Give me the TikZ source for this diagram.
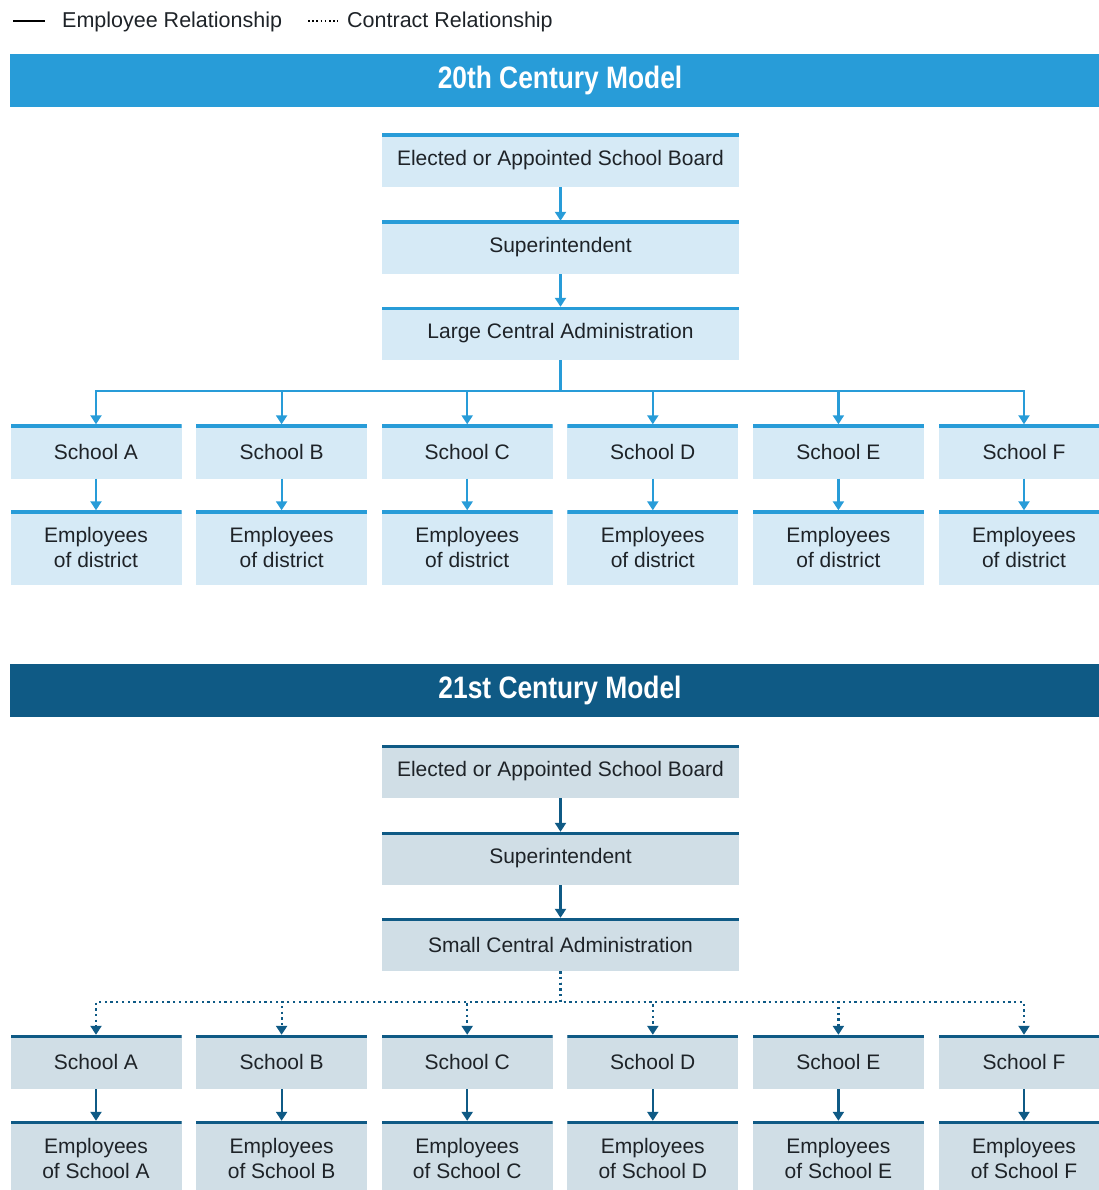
\documentclass[tikz,border=0pt]{standalone}
\usepackage{fontspec}
\setmainfont{Liberation Sans}
\newfontfamily\headfont[FakeStretch=0.85]{Liberation Sans}
\usepackage{tikz}
\usetikzlibrary{arrows.meta, positioning}

\definecolor{oldblue}{HTML}{289CD8}
\definecolor{oldfill}{HTML}{D6EAF6}
\definecolor{newblue}{HTML}{0F5A85}
\definecolor{newfill}{HTML}{D0DEE6}
\definecolor{ink}{HTML}{1E2328}

\tikzset{
  box/.style={inner sep=0pt, text=ink, align=center, font=\fontsize{21}{25}\selectfont},
  topline/.style={path picture={\draw[line width=6pt, #1]
      (path picture bounding box.north west) -- (path picture bounding box.north east);}},
  oldbox/.style={fill=oldfill, topline=oldblue},
  newbox/.style={fill=newfill, topline=newblue},
  wide/.style={box, minimum width=357pt, minimum height=53pt},
  school/.style={box, minimum width=171pt, minimum height=54pt},
  staff/.style={box, minimum width=171pt, minimum height=74pt},
  banner/.style={minimum width=1101pt, minimum height=53pt, inner sep=0pt, text=white,
      font=\headfont\bfseries\fontsize{31}{36}\selectfont},
  legend/.style={anchor=west, inner sep=0pt, text=ink, font=\fontsize{21.5}{25}\selectfont},
  link/.style={line width=2.2pt, -{Triangle[width=11pt, length=9pt]}},
  contract/.style={link, dash pattern=on 2.3pt off 3.4pt},
}

\begin{document}
\begin{tikzpicture}[x=1pt, y=1pt, on grid, node distance=87pt]
\useasboundingbox (0,0) rectangle (1099,-1190);

% legend
\draw[line width=2.5pt] (13,-21) -- (45,-21);
\node[legend] (emplegend) at (62,-22) {Employee Relationship};
\draw[line width=1.6pt, dash pattern=on 1.6pt off 2.6pt] (308,-21) -- (338,-21);
\node[legend] (conlegend) at (347,-22) {Contract Relationship};

% 20th century
\node[banner, fill=oldblue] (head1) at (560,-80.5) {20th Century Model};
\node[wide, oldbox] (board1) at (560.5,-160.5) {Elected or Appointed School Board};
\node[wide, oldbox, below=of board1] (super1) {Superintendent};
\node[wide, oldbox, below=86pt of super1] (admin1) {Large Central Administration};
\draw[link, oldblue] (board1) -- (super1);
\draw[link, oldblue] (super1) -- (admin1);

\foreach \s/\x in {A/96,B/281.6,C/467.2,D/652.8,E/838.4,F/1024}{
  \node[school, oldbox] (schold\s) at (\x,-451.5) {School \s};
  \node[staff, oldbox, below=96pt of schold\s] (empold\s) {Employees\\of district};
  \draw[link, oldblue] (admin1.south) -- ++(0,-31) -| (schold\s.north);
  \draw[link, oldblue] (schold\s) -- (empold\s);
}

% 21st century
\node[banner, fill=newblue] (head2) at (560,-690.5) {21st Century Model};
\node[wide, newbox] (board2) at (560.5,-771.5) {Elected or Appointed School Board};
\node[wide, newbox, below=of board2] (super2) {Superintendent};
\node[wide, newbox, below=86pt of super2] (admin2) {Small Central Administration};
\draw[link, newblue] (board2) -- (super2);
\draw[link, newblue] (super2) -- (admin2);

\foreach \s/\x in {A/96,B/281.6,C/467.2,D/652.8,E/838.4,F/1024}{
  \node[school, newbox] (schnew\s) at (\x,-1062) {School \s};
  \node[staff, newbox, below=96pt of schnew\s] (empnew\s) {Employees\\of School \s};
  \draw[contract, newblue] (admin2.south) -- ++(0,-31) -| (schnew\s.north);
  \draw[link, newblue] (schnew\s) -- (empnew\s);
}
\end{tikzpicture}
\end{document}
